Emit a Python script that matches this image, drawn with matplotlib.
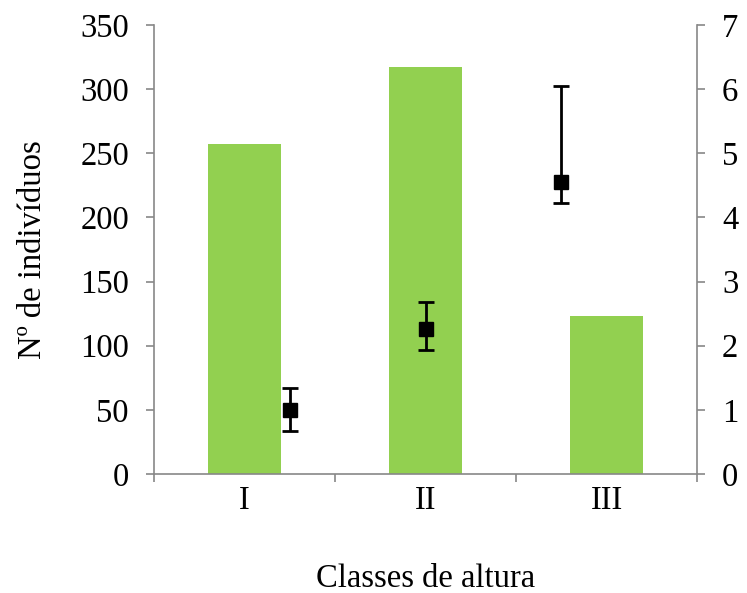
import numpy as np
import matplotlib.pyplot as plt

plt.rcParams['font.family'] = ['Liberation Serif', 'DejaVu Serif']

classes = ['I', 'II', 'III']
n_individuos = [257, 317, 123]          # eixo esquerdo (barras)
media = [1.0, 2.26, 4.56]               # eixo direito (pontos)
erro_inf = [0.33, 0.33, 0.33]
erro_sup = [0.34, 0.42, 1.49]

fig = plt.figure(figsize=(7.47, 5.93), dpi=100)
ax = fig.add_axes([154 / 747, 1 - 474 / 593, 543 / 747, 449 / 593])

x = np.arange(len(classes))
ax.bar(x, n_individuos, width=0.4, color='#92d050', zorder=2)
ax.set_xlim(-0.5, len(classes) - 0.5)
ax.set_ylim(0, 350)
ax.set_yticks(range(0, 351, 50))

# categorias: rótulos centrados, marcas nos limites
ax.set_xticks(x)
ax.set_xticklabels(classes)
ax.set_xticks(np.arange(len(classes) + 1) - 0.5, minor=True)
ax.tick_params(axis='x', which='major', length=0, pad=8)
ax.tick_params(axis='x', which='minor', length=6, width=1.2, color='#888888', direction='out')
ax.tick_params(axis='y', length=6, width=1.2, color='#888888', direction='out', pad=12)
ax.tick_params(labelsize=23.5)

for s in ['top', 'right']:
    ax.spines[s].set_visible(False)
for s in ['left', 'bottom']:
    ax.spines[s].set_color('#888888')
    ax.spines[s].set_linewidth(1.2)

ax.set_xlabel('Classes de altura', fontsize=23.5)
ax.xaxis.set_label_coords(0.5, -0.2)
ax.set_ylabel('Nº de indivíduos', fontsize=23.5)
ax.yaxis.set_label_coords(-0.195, 0.5)

# eixo secundário: pontos repartidos a 1/4, 2/4, 3/4 da largura
ax2 = ax.twinx()
xp = (np.arange(len(media)) + 1) * len(classes) / (len(media) + 1) - 0.5
ax2.errorbar(xp, media, yerr=[erro_inf, erro_sup], fmt='s', color='black',
             markersize=9.5, ecolor='black', elinewidth=2, capsize=6, capthick=2, zorder=3)
ax2.set_ylim(0, 7)
ax2.set_yticks(range(0, 8))
ax2.tick_params(axis='y', length=6, width=1.2, color='#888888', direction='out',
                labelsize=23.5, pad=12)
for s in ['top', 'left', 'bottom']:
    ax2.spines[s].set_visible(False)
ax2.spines['right'].set_color('#888888')
ax2.spines['right'].set_linewidth(1.2)

fig.savefig('out.png', dpi=100)
